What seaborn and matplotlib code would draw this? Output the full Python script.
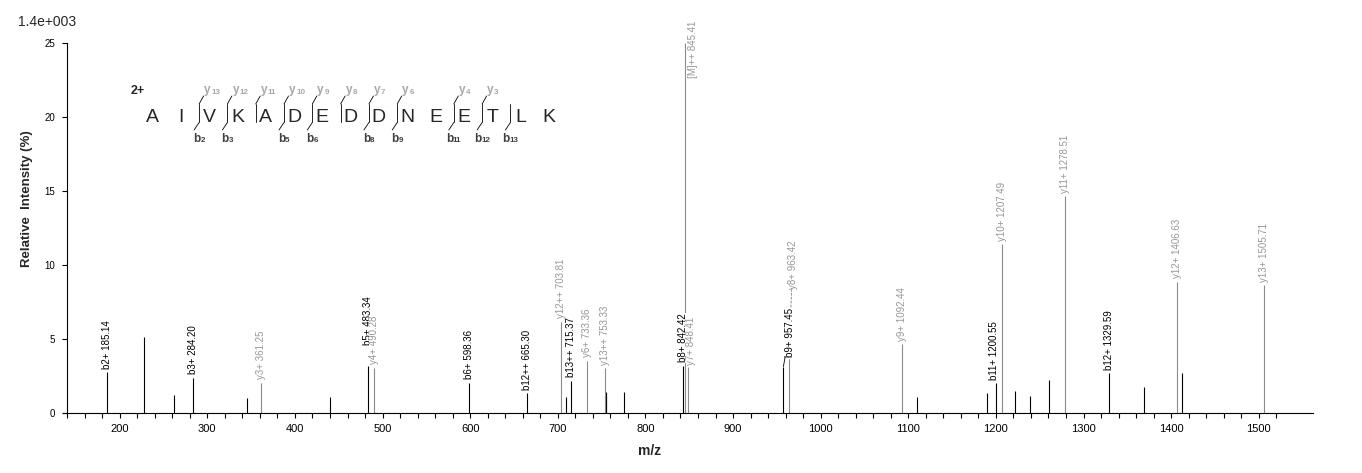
import matplotlib
matplotlib.use("Agg")
import matplotlib.pyplot as plt
import matplotlib.ticker as mticker
import numpy as np
import pandas as pd
import seaborn as sns

# ==============================================================================
# 1. DADOS DO ESPECTRO (m/z, intensidade relativa %)
# ==============================================================================

# ions b (pretos)
b_mz = [185.14, 284.20, 483.34, 598.36, 665.30, 715.37, 842.42, 957.45, 1200.55, 1329.59]
b_int = [2.77, 2.40, 3.20, 2.07, 1.35, 2.20, 3.20, 3.15, 2.03, 2.70]
b_lab = ["b2+", "b3+", "b5+", "b6+", "b12++", "b13++", "b8+", "b9+", "b11+", "b12+"]

# ions y + precursor (cinza)
y_mz = [361.25, 490.28, 703.81, 733.36, 753.33, 845.41, 848.41, 963.42,
        1092.44, 1207.49, 1278.51, 1406.63, 1505.71]
y_int = [2.07, 3.08, 6.20, 3.55, 3.06, 25.0, 3.15, 3.70, 4.68, 11.44, 14.68, 8.90, 8.65]
y_lab = ["y3+", "y4+", "y12++", "y6+", "y13++", "[M]++", "y7+", "y8+",
         "y9+", "y10+", "y11+", "y12+", "y13+"]

# picos sem anotacao
other_mz = [228.0, 261.6, 345.5, 440.2, 709.9, 754.6, 755.3, 775.6,
            1109.8, 1189.7, 1221.6, 1238.7, 1260.4, 1368.8, 1412.1]
other_int = [5.14, 1.24, 1.03, 1.12, 1.10, 1.40, 1.45, 1.45,
             1.12, 1.37, 1.50, 1.19, 2.25, 1.80, 2.74]

# sequencia do peptideo e fragmentos observados
sequence = list("AIVKADEDDNEETLK")
b_frag = [2, 3, 5, 6, 8, 9, 11, 12, 13]
y_frag = [13, 12, 11, 10, 9, 8, 7, 6, 4, 3]
charge = "2+"

x_ticks_major = list(range(200, 1501, 100))
y_ticks = [0, 5, 10, 15, 20, 25]

# ==============================================================================
# 2. TABELA
# ==============================================================================
df_b = pd.DataFrame({"mz": b_mz, "intensity": b_int, "label": b_lab, "kind": "b"})
df_y = pd.DataFrame({"mz": y_mz, "intensity": y_int, "label": y_lab, "kind": "y"})
df_o = pd.DataFrame({"mz": other_mz, "intensity": other_int, "label": "", "kind": "o"})
df = pd.concat([df_b, df_y, df_o], ignore_index=True).sort_values("mz")

# ==============================================================================
# 3. GRAFICO
# ==============================================================================
sns.set_theme(style="ticks")
plt.rcParams["font.family"] = ["Liberation Sans", "DejaVu Sans"]

W, H = 1362, 473
fig = plt.figure(figsize=(W / 100, H / 100), dpi=100)
ax = fig.add_axes([63 / W, 1 - 413.3 / H, 1250 / W, 370 / H])


def fp(x, y):
    # pixel da figura -> fracao da figura
    return x / W, 1 - y / H


cores = {"b": "black", "y": "#8a8a8a", "o": "black"}
cores_txt = {"b": "black", "y": "#969696"}

for kind, sub in df.groupby("kind"):
    ax.vlines(sub["mz"], 0, sub["intensity"], color=cores[kind], lw=0.8,
              zorder=2, clip_on=False)

# posicoes especiais de rotulos (pontos)
label_offsets = {"[M]++": (5.5, 16, "top"), "b5+": (0, 15, "bottom"),
                 "b9+": (4.5, 7, "bottom"), "y8+": (3, 50, "bottom"),
                 "y7+": (2.2, 1, "bottom"), "b11+": (-1.5, 2.5, "bottom")}
leaders = {"b9+": dict(arrowstyle="-", color="black", lw=0.6, shrinkA=0, shrinkB=0),
           "y8+": dict(arrowstyle="-", color="#8a8a8a", lw=0.7, ls=(0, (2, 2)),
                       shrinkA=0, shrinkB=0)}

z = 4
for _, r in df[df["kind"] != "o"].iterrows():
    dx, dy, va = label_offsets.get(r["label"], (0, 2.5, "bottom"))
    zo = 3 if r["label"] == "y8+" else z
    ax.annotate(f"{r['label']} {r['mz']:.2f}", xy=(r["mz"], r["intensity"]),
                xytext=(dx, dy), textcoords="offset points", rotation=90,
                ha="center", va=va, fontsize=7, color=cores_txt[r["kind"]],
                bbox=dict(boxstyle="square,pad=0.04", fc="white", ec="none"),
                arrowprops=leaders.get(r["label"]), zorder=zo,
                annotation_clip=False)
    z += 1

# eixos
ax.set_xlim(135.3, 1561.9)
ax.set_ylim(0, 25)
ax.xaxis.set_major_locator(mticker.FixedLocator(np.arange(140, 1521, 20)))
ax.xaxis.set_major_formatter(mticker.FuncFormatter(
    lambda v, p: f"{int(round(v))}" if int(round(v)) in x_ticks_major else ""))
ax.set_yticks(y_ticks)
ax.set_yticklabels([str(t) for t in y_ticks])
plt.setp(ax.get_yticklabels(), rotation=90, va="center", ha="right")
ax.tick_params(axis="x", direction="out", length=3.6, width=0.8, labelsize=8,
               pad=4, colors="black")
ax.tick_params(axis="y", direction="out", length=3.6, width=0.8, labelsize=7,
               pad=5, colors="black")
ax.set_xlabel("")
ax.set_ylabel("")
ax.grid(False)
ax.set_facecolor("white")
sns.despine(ax=ax)
ax.spines["left"].set_position(("data", 140))
ax.spines["left"].set_bounds(0, 25)
for s in ("left", "bottom"):
    ax.spines[s].set_linewidth(0.8)
    ax.spines[s].set_color("black")

fig.text(*fp(27, 198.5), "Relative  Intensity (%)", rotation=90, ha="center",
         va="center", fontsize=9.5, fontweight="bold")
fig.text(*fp(650, 451), "m/z", ha="center", va="center", fontsize=10,
         fontweight="bold")
fig.text(*fp(47.5, 22), "1.4e+003", ha="center", va="center", fontsize=10)

# ==============================================================================
# 4. SEQUENCIA COM CLIVAGENS
# ==============================================================================
SEQ_X0, SEQ_DX, SEQ_BASE = 152.5, 28.3, 122
PT = 100 / 72


def ion_tag(x_left, base, letter, num, color):
    fig.text(*fp(x_left, base), letter, fontsize=8.5, fontweight="bold",
             color=color, ha="left", va="baseline")
    wl = 0.6 * 8.5 * PT
    fig.text(*fp(x_left + wl, base), num, fontsize=5.8, fontweight="bold",
             color=color, ha="left", va="baseline")


fig.text(*fp(137.5, 91), charge, fontsize=9, fontweight="bold", ha="center",
         va="center")
for i, aa in enumerate(sequence):
    fig.text(*fp(SEQ_X0 + i * SEQ_DX, SEQ_BASE), aa, fontsize=14,
             ha="center", va="baseline")

y_cuts = {len(sequence) - n: n for n in y_frag}
b_cuts = {n: n for n in b_frag}
for cut in sorted(set(y_cuts) | set(b_cuts)):
    xm = SEQ_X0 + cut * SEQ_DX - 10
    ax.plot(*zip(fp(xm, 104), fp(xm, 122.5)), color="black", lw=0.6,
            transform=fig.transFigure, clip_on=False)
    if cut in y_cuts:
        ax.plot(*zip(fp(xm, 104), fp(xm + 4.5, 96)), color="black", lw=0.6,
                transform=fig.transFigure, clip_on=False)
        ion_tag(xm + 5, 93.5, "y", str(y_cuts[cut]), "#a8a8a8")
    if cut in b_cuts:
        ax.plot(*zip(fp(xm, 122.5), fp(xm - 5, 130)), color="black", lw=0.6,
                transform=fig.transFigure, clip_on=False)
        nd = len(str(b_cuts[cut]))
        total = 0.61 * 8.5 * PT + nd * 0.556 * 5.8 * PT
        ion_tag(xm - total / 2, 141.7, "b", str(b_cuts[cut]), "#404040")

fig.savefig("out.png", dpi=100, facecolor="white")
